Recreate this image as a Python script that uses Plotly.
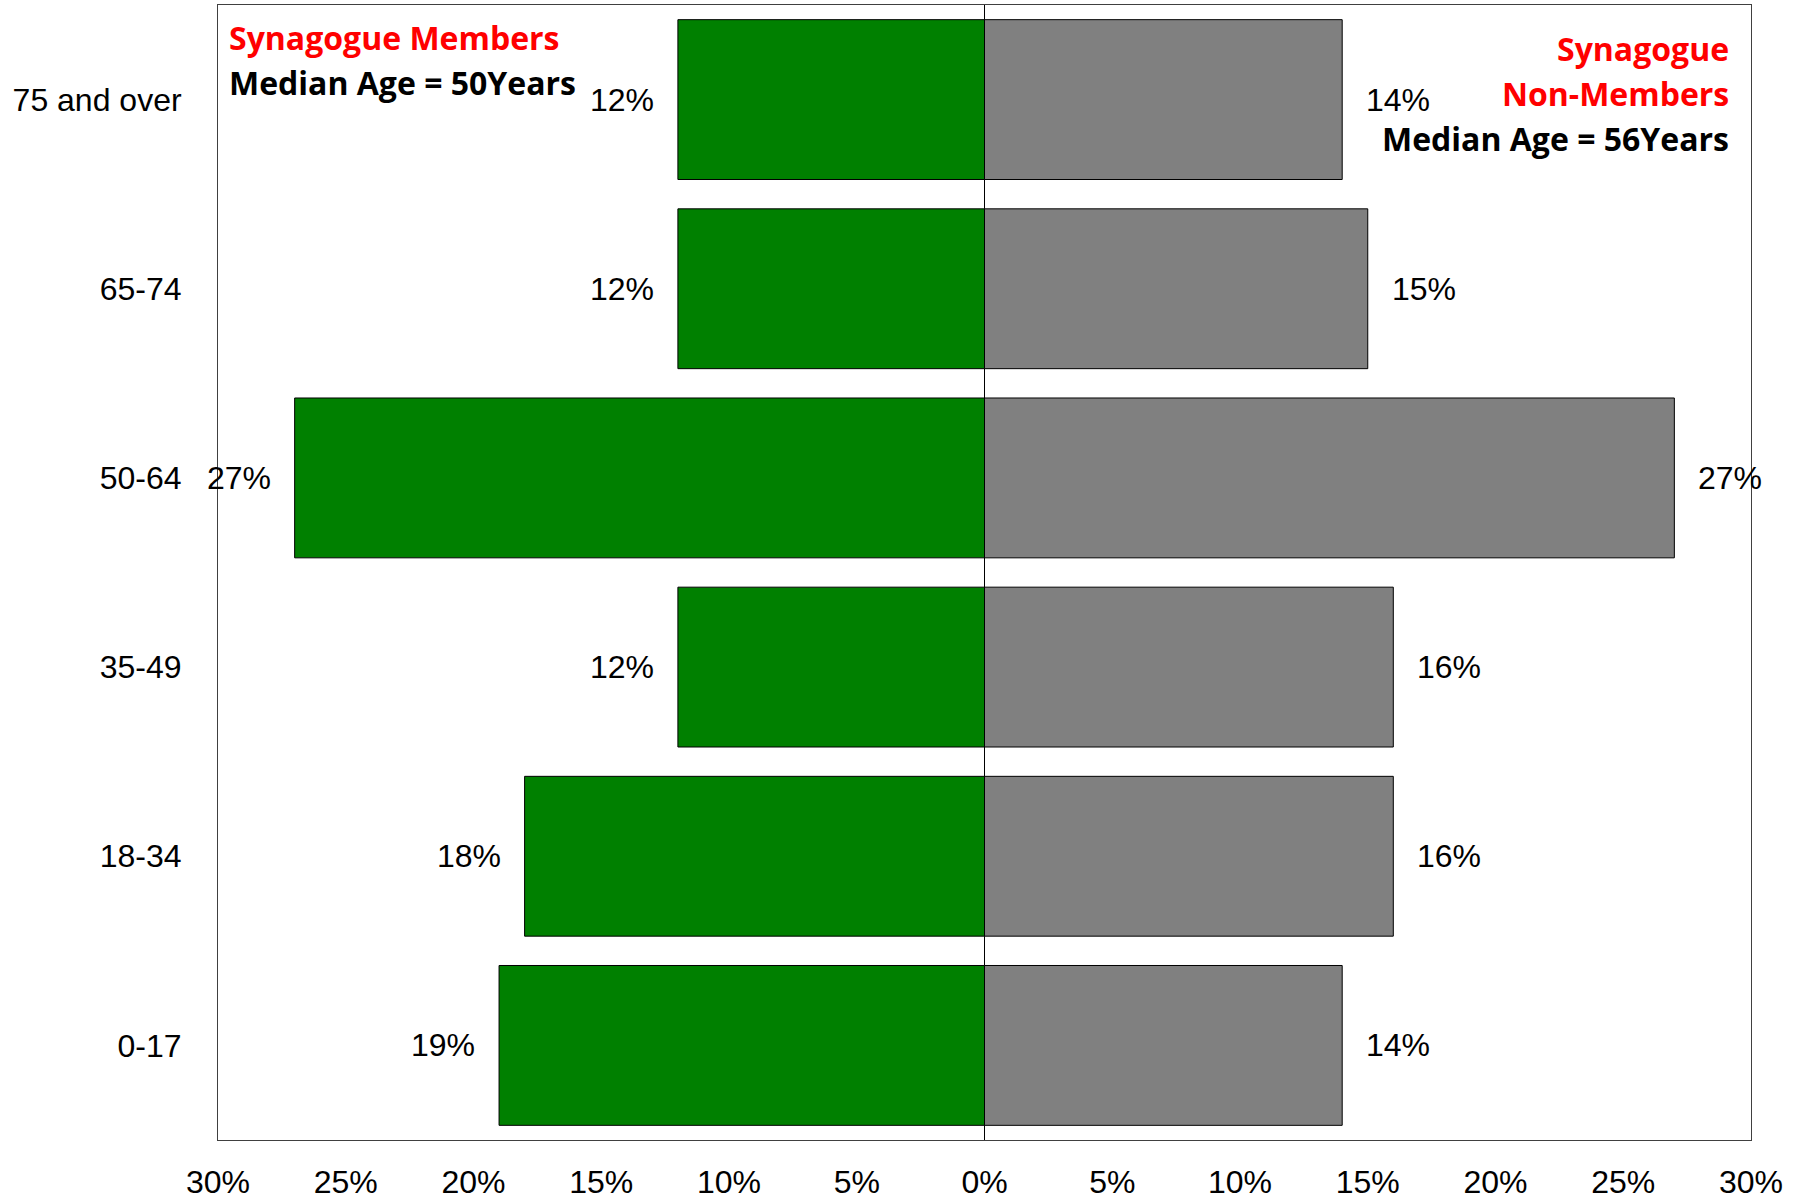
import plotly.graph_objects as go

# Age groups, top to bottom
age_groups = ["75 and over", "65-74", "50-64", "35-49", "18-34", "0-17"]
# Share of each group (%)
members_pct = [12, 12, 27, 12, 18, 19]
non_members_pct = [14, 15, 27, 16, 16, 14]

tick_vals = [-30, -25, -20, -15, -10, -5, 0, 5, 10, 15, 20, 25, 30]
tick_text = ["30%", "25%", "20%", "15%", "10%", "5%", "0%",
             "5%", "10%", "15%", "20%", "25%", "30%"]

# Corner notes: (text, colour) per line
members_note = [("Synagogue Members", "#FF0000"), ("Median Age = 50Years", "black")]
non_members_note = [("Synagogue", "#FF0000"), ("Non-Members", "#FF0000"),
                    ("Median Age = 56Years", "black")]

label_font = dict(family="Liberation Sans, Arial, sans-serif", size=32, color="black")
note_family = "Open Sans, Noto Sans, sans-serif"

fig = go.Figure()

fig.add_trace(go.Bar(
    y=age_groups,
    x=[-v for v in members_pct],
    orientation="h",
    name="Synagogue Members",
    marker=dict(color="#008000", line=dict(color="black", width=1)),
    hoverinfo="skip",
))
fig.add_trace(go.Bar(
    y=age_groups,
    x=non_members_pct,
    orientation="h",
    name="Synagogue Non-Members",
    marker=dict(color="#808080", line=dict(color="black", width=1)),
    hoverinfo="skip",
))

# Percentage labels just outside each bar end
annotations = []
for grp, v in zip(age_groups, members_pct):
    annotations.append(dict(
        x=-v, y=grp, xref="x", yref="y", text=f"{v}%",
        showarrow=False, xanchor="right", yanchor="middle",
        xshift=-22, font=label_font,
    ))
for grp, v in zip(age_groups, non_members_pct):
    annotations.append(dict(
        x=v, y=grp, xref="x", yref="y", text=f"{v}%",
        showarrow=False, xanchor="left", yanchor="middle",
        xshift=22, font=label_font,
    ))

# Group notes in the top corners, one annotation per line
left_rows = [0.9716, 0.9321]
for (txt, col), yp in zip(members_note, left_rows):
    annotations.append(dict(
        x=0.0058, y=yp, xref="paper", yref="paper",
        xanchor="left", yanchor="middle", showarrow=False,
        text=f"<b>{txt}</b>",
        font=dict(family=note_family, size=32, color=col),
    ))
right_rows = [0.9614, 0.9220, 0.8824]
for (txt, col), yp in zip(non_members_note, right_rows):
    annotations.append(dict(
        x=0.9867, y=yp, xref="paper", yref="paper",
        xanchor="right", yanchor="middle", showarrow=False,
        text=f"<b>{txt}</b>",
        font=dict(family=note_family, size=32, color=col),
    ))

fig.update_layout(
    width=1804, height=1201,
    margin=dict(l=217.5, r=53, t=4.6, b=61),
    paper_bgcolor="white", plot_bgcolor="white",
    barmode="overlay", bargap=0.155,
    showlegend=False,
    annotations=annotations,
    font=label_font,
)
fig.update_xaxes(
    range=[-30, 30], tickvals=tick_vals, ticktext=tick_text,
    showgrid=False, zeroline=True, zerolinecolor="black", zerolinewidth=1,
    showline=True, mirror=True, linecolor="#404040", linewidth=1,
    ticks="", ticklabelstandoff=14, tickfont=label_font, automargin=False,
)
fig.update_yaxes(
    categoryorder="array", categoryarray=age_groups[::-1],
    showgrid=False, showline=True, mirror=True, linecolor="#404040", linewidth=1,
    ticks="", ticklabelstandoff=29, tickfont=label_font, automargin=False,
)

fig.write_html("out.html")
